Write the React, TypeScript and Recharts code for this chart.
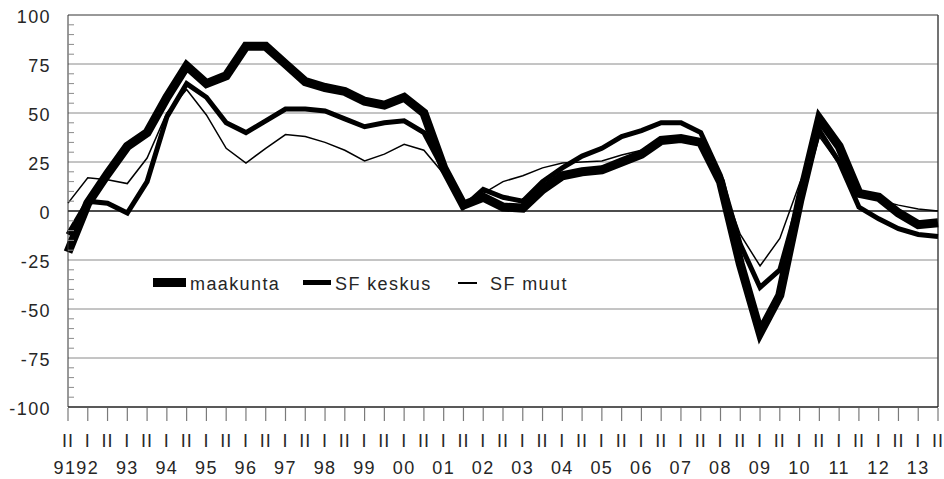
import { LineChart, Line, XAxis, YAxis, ReferenceLine } from 'recharts';

// half-year periods, 1991 II .. 2013 II
const periods = [
  '1991 II', '1992 I', '1992 II', '1993 I', '1993 II', '1994 I', '1994 II', '1995 I', '1995 II',
  '1996 I', '1996 II', '1997 I', '1997 II', '1998 I', '1998 II', '1999 I', '1999 II', '2000 I',
  '2000 II', '2001 I', '2001 II', '2002 I', '2002 II', '2003 I', '2003 II', '2004 I', '2004 II',
  '2005 I', '2005 II', '2006 I', '2006 II', '2007 I', '2007 II', '2008 I', '2008 II', '2009 I',
  '2009 II', '2010 I', '2010 II', '2011 I', '2011 II', '2012 I', '2012 II', '2013 I', '2013 II',
];

const maakunta = [
  -21, 4, 19, 33, 40, 58, 74, 65, 69, 84, 84, 75, 66, 63, 61, 56, 54, 58, 50, 22, 3, 7, 2,
  1.5, 11, 18, 20, 21, 25, 29, 36, 37, 35, 15, -27, -62, -43, 5, 47, 33, 9, 7, -1, -7, -6,
];

const sfKeskus = [
  -12, 5, 4, -1, 15, 48, 65, 58, 45, 40, 46, 52, 52, 51, 47, 43, 45, 46, 40, 21, 2, 11, 7,
  5, 15, 22, 28, 32, 38, 41, 45, 45, 40, 18, -17, -39, -30, 6, 41, 25, 2, -4, -9, -12, -13,
];

const sfMuut = [
  4, 17, 16, 14, 27, 50, 62, 49, 32, 24.5, 32, 39, 38, 35, 31, 25.5, 29, 34, 31, 19, 4, 9, 15,
  18, 22, 24.5, 25, 25.5, 28.6, 31, 35, 36, 35, 16, -12, -28, -14, 14, 38, 24, 10, 5.5, 3, 1, 0,
];

const majorTicks = [-100, -75, -50, -25, 0, 25, 50, 75, 100];
const gridValues = [-75, -50, -25, 25, 50, 75];

const data = periods.map((p, i) => ({
  period: p,
  maakunta: maakunta[i],
  keskus: sfKeskus[i],
  muut: sfMuut[i],
}));

const allTicks: number[] = [];
for (let v = -100; v <= 100; v += 5) allTicks.push(v);

const FONT = '"Liberation Sans", Arial, sans-serif';
const TEXT = '#262626';

const XTick = (props: any) => {
  const { x, payload, index } = props;
  const [year, half] = String(payload.value).split(' ');
  const showYear = half === 'I' || index === 0;
  // axis baseline sits at y = 407 (top 15 + plot height 392)
  return (
    <g>
      <path d={`M${x},408 L${x},421`} stroke="#7a7a7a" strokeWidth={1.2} fill="none" />
      <text x={x} y={447} textAnchor="middle" fontSize={18} fontFamily={FONT} fill={TEXT} letterSpacing={1}>
        {half}
      </text>
      {showYear && (
        <text x={x - (index === 0 ? 3 : 0)} y={474} textAnchor="middle" fontSize={18} fontFamily={FONT} fill={TEXT} letterSpacing={1.4}>
          {year.slice(2)}
        </text>
      )}
    </g>
  );
};

const YTick = (props: any) => {
  const { x, y, payload } = props;
  const v = payload.value as number;
  if (majorTicks.includes(v)) {
    return (
      <text x={x - 17} y={y + 2} textAnchor="end" dominantBaseline="central" fontSize={18} fontFamily={FONT} fill={TEXT} letterSpacing={1.4}>
        {v}
      </text>
    );
  }
  return <line x1={x} x2={x + 6} y1={y} y2={y} stroke="#8a8a8a" strokeWidth={1} />;
};

const legendText: React.CSSProperties = {
  position: 'absolute',
  fontFamily: FONT,
  fontSize: 18,
  letterSpacing: 1.4,
  color: TEXT,
  lineHeight: '18px',
  top: 275,
};

export default function App() {
  return (
    <div style={{ position: 'absolute', left: 0, top: 0, width: 944, height: 479, background: '#fff' }}>
      <LineChart width={944} height={479} data={data} margin={{ top: 15, right: 6, bottom: 0, left: 0 }}>
        {gridValues.map((g) => (
          <ReferenceLine key={g} y={g} stroke="#8a8a8a" strokeWidth={1} />
        ))}
        <ReferenceLine y={0} stroke="#111" strokeWidth={1.5} />
        <ReferenceLine y={100} stroke="#333" strokeWidth={1} />
        <ReferenceLine x={periods[periods.length - 1]} stroke="#444" strokeWidth={1.5} />
        <XAxis
          dataKey="period"
          interval={0}
          tickSize={0}
          tickMargin={0}
          height={72}
          tickLine={false}
          axisLine={{ stroke: '#222', strokeWidth: 1.5 }}
          tick={<XTick />}
        />
        <YAxis
          domain={[-100, 100]}
          ticks={allTicks}
          interval={0}
          width={68}
          tickSize={0}
          tickMargin={0}
          axisLine={{ stroke: '#333', strokeWidth: 1 }}
          tick={<YTick />}
        />
        <Line type="linear" dataKey="maakunta" stroke="#000" strokeWidth={9} dot={false} isAnimationActive={false} />
        <Line type="linear" dataKey="keskus" stroke="#000" strokeWidth={5} dot={false} isAnimationActive={false} />
        <Line type="linear" dataKey="muut" stroke="#000" strokeWidth={1.5} dot={false} isAnimationActive={false} />
      </LineChart>
      <div style={{ position: 'absolute', left: 153, top: 278, width: 33, height: 9, background: '#000' }} />
      <div style={{ ...legendText, left: 190 }}>maakunta</div>
      <div style={{ position: 'absolute', left: 303, top: 280, width: 28, height: 5, background: '#000' }} />
      <div style={{ ...legendText, left: 335 }}>SF keskus</div>
      <div style={{ position: 'absolute', left: 458, top: 282, width: 19, height: 1.5, background: '#000' }} />
      <div style={{ ...legendText, left: 490 }}>SF muut</div>
    </div>
  );
}
